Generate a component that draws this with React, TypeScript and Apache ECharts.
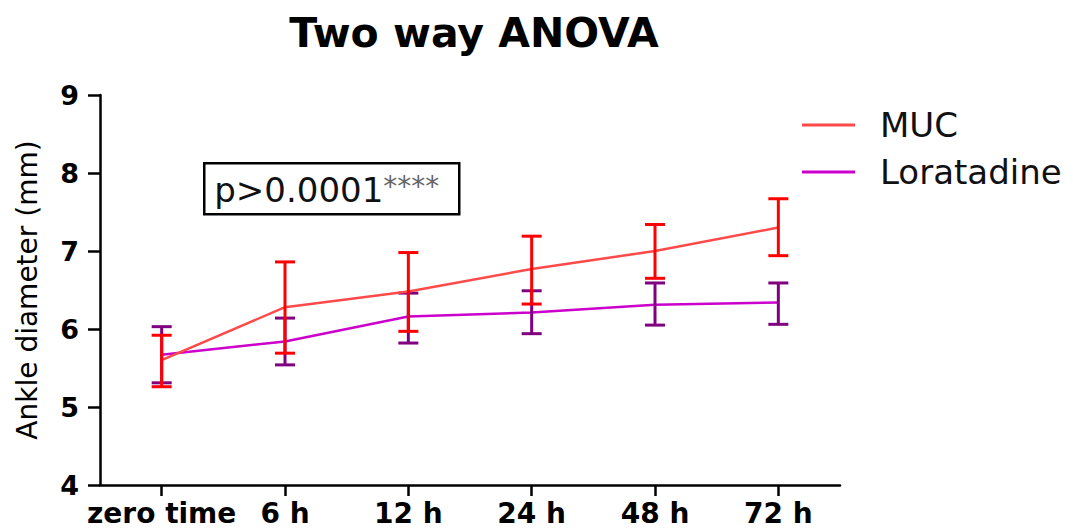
import React, { useEffect, useRef } from "react";
import * as echarts from "echarts";

const categories = ["zero time", "6 h", "12 h", "24 h", "48 h", "72 h"];
const yTicks = [4, 5, 6, 7, 8, 9];

const mucMean = [5.6, 6.28, 6.48, 6.77, 7.0, 7.3];
const mucLow = [5.26, 5.69, 5.97, 6.32, 6.65, 6.94];
const mucHigh = [5.92, 6.86, 6.98, 7.19, 7.34, 7.67];

const loraMean = [5.67, 5.84, 6.16, 6.21, 6.31, 6.34];
const loraLow = [5.31, 5.54, 5.82, 5.94, 6.05, 6.06];
const loraHigh = [6.03, 6.14, 6.46, 6.49, 6.59, 6.59];

const FONT = "'DejaVu Sans', 'Liberation Sans', Arial, sans-serif";

function errorSeries(name: string, low: number[], high: number[], color: string, z: number) {
  return {
    type: "custom",
    name: name + " SD",
    z,
    data: categories.map((c, i) => [i, low[i], high[i]]),
    encode: { x: 0, y: [1, 2] },
    renderItem: (params: any, api: any) => {
      const i = api.value(0);
      const lo = api.coord([i, api.value(1)]);
      const hi = api.coord([i, api.value(2)]);
      const hw = 10;
      const style = { stroke: color, lineWidth: 3, fill: "none" };
      return {
        type: "group",
        children: [
          { type: "line", shape: { x1: lo[0], y1: lo[1], x2: hi[0], y2: hi[1] }, style },
          { type: "line", shape: { x1: hi[0] - hw, y1: hi[1], x2: hi[0] + hw, y2: hi[1] }, style },
          { type: "line", shape: { x1: lo[0] - hw, y1: lo[1], x2: lo[0] + hw, y2: lo[1] }, style },
        ],
      };
    },
    silent: true,
  };
}

export default function App() {
  const ref = useRef<HTMLDivElement>(null);
  useEffect(() => {
    document.body.style.margin = "0";
    const chart = echarts.init(ref.current!, null, { renderer: "svg" });
    chart.setOption({
      animation: false,
      backgroundColor: "#ffffff",
      title: {
        text: "Two way ANOVA",
        left: 469,
        textAlign: "center",
        top: 7,
        textStyle: { fontFamily: FONT, fontSize: 41, fontWeight: "bold", color: "#000" },
      },
      legend: {
        orient: "vertical",
        left: 797,
        top: 103,
        itemWidth: 53,
        itemHeight: 3,
        itemGap: 13,
        data: [
          { name: "MUC", icon: "rect" },
          { name: "Loratadine", icon: "rect" },
        ],
        textStyle: { fontFamily: FONT, fontSize: 34, color: "#111", padding: [0, 0, 0, 20] },
      },
      grid: { left: 100, right: 233, top: 95, bottom: 47, containLabel: false },
      xAxis: {
        type: "category",
        data: categories,
        boundaryGap: true,
        axisLine: { show: true, lineStyle: { color: "#000", width: 2.5 } },
        axisTick: { show: true, alignWithLabel: true, interval: 0, length: 11, lineStyle: { color: "#000", width: 2.5 } },
        axisLabel: { interval: 0, fontFamily: FONT, fontSize: 28, fontWeight: "bold", color: "#000", margin: 14 },
      },
      yAxis: {
        type: "value",
        min: yTicks[0],
        max: yTicks[yTicks.length - 1],
        interval: 1,
        name: "Ankle diameter (mm)",
        nameLocation: "middle",
        nameGap: 59,
        nameTextStyle: { fontFamily: FONT, fontSize: 28, color: "#000" },
        splitLine: { show: false },
        axisLine: { show: true, lineStyle: { color: "#000", width: 2.5 } },
        axisTick: { show: true, length: 12, lineStyle: { color: "#000", width: 2.5 } },
        axisLabel: { fontFamily: FONT, fontSize: 27, fontWeight: "bold", color: "#000", margin: 21 },
      },
      graphic: [
        {
          type: "group",
          left: 203,
          top: 162,
          children: [
            { type: "rect", shape: { x: 0, y: 0, width: 255, height: 51 }, style: { fill: "#fff", stroke: "#000", lineWidth: 2.5 } },
            {
              type: "text",
              x: 10,
              y: 27,
              style: {
                text: "{p|p>0.0001}{s|****}",
                textVerticalAlign: "middle",
                rich: {
                  p: { fontFamily: FONT, fontSize: 34, fill: "#111" },
                  s: { fontFamily: FONT, fontSize: 28, fill: "#666", verticalAlign: "top", padding: [0, 0, 8, 0] },
                },
              },
            },
          ],
        },
      ],
      series: [
        {
          name: "Loratadine",
          type: "line",
          data: loraMean,
          symbol: "none",
          z: 2,
          lineStyle: { color: "#cc00cc", width: 2.5 },
          itemStyle: { color: "#cc00cc" },
        },
        errorSeries("Loratadine", loraLow, loraHigh, "#800080", 3),
        {
          name: "MUC",
          type: "line",
          data: mucMean,
          symbol: "none",
          z: 4,
          lineStyle: { color: "#ff4a4a", width: 2.5 },
          itemStyle: { color: "#ff4a4a" },
        },
        errorSeries("MUC", mucLow, mucHigh, "#ff0000", 5),
      ],
    });
    return () => chart.dispose();
  }, []);
  return <div ref={ref} style={{ width: 1073, height: 532 }} />;
}
